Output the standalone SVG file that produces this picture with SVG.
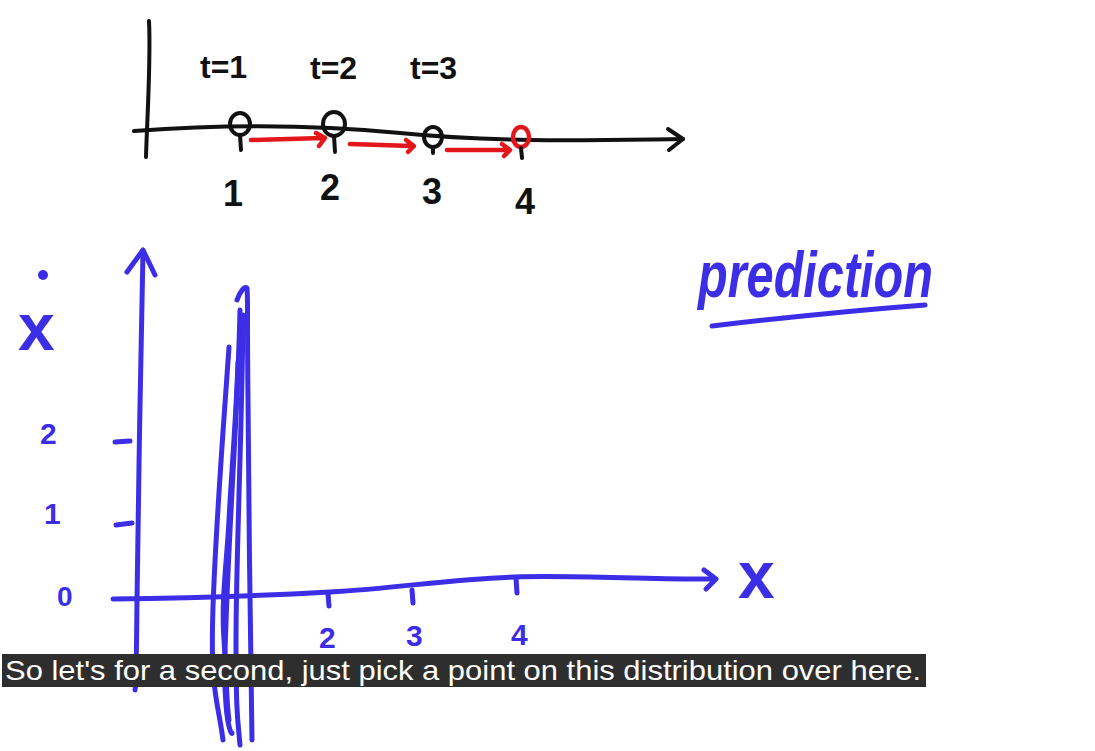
<svg xmlns="http://www.w3.org/2000/svg" width="1095" height="751" viewBox="0 0 1095 751">
<style>
.k{fill:none;stroke:#111;stroke-width:4;stroke-linecap:round;stroke-linejoin:round}
.r{fill:none;stroke:#e3161b;stroke-width:4.5;stroke-linecap:round;stroke-linejoin:round}
.b{fill:none;stroke:#3b2ee6;stroke-width:5;stroke-linecap:round;stroke-linejoin:round}
.tk{font-family:"Liberation Sans",sans-serif;fill:#111;font-weight:bold}
.tb{font-family:"Liberation Sans",sans-serif;fill:#3b2ee6;font-weight:bold}
.cap{font-family:"Liberation Sans",sans-serif;fill:#fff;font-size:28px}
</style>
<rect width="1095" height="751" fill="#fff"/>
<g id="top-axis">
<path class="k" d="M149,21 C151,60 147,120 146,157"/>
<path class="k" d="M134,131 C200,126 300,123 400,133 S600,140 683,139"/>
<path class="k" d="M668,129 L683,139 L669,150"/>
<ellipse class="k" cx="240" cy="124" rx="10" ry="11"/>
<ellipse class="k" cx="334" cy="124" rx="11" ry="12"/>
<ellipse class="k" cx="433" cy="137" rx="9" ry="10"/>
<ellipse class="r" cx="521" cy="137" rx="8" ry="10"/>
<path class="k" d="M240,135 L241,150 M334,136 L335,152 M433,147 L433,153 M521,148 L522,158"/>
<path class="r" d="M251,140 L323,138 M316,133 L325,138 L319,146"/>
<path class="r" d="M350,144 L412,146 M406,140 L414,146 L408,152"/>
<path class="r" d="M447,150 L508,150 M502,144 L510,150 L504,156"/>
<text class="tk" x="200" y="78" font-size="32">t=1</text>
<text class="tk" x="310" y="79" font-size="32">t=2</text>
<text class="tk" x="410" y="79" font-size="32">t=3</text>
<text class="tk" x="223" y="206" font-size="36">1</text>
<text class="tk" x="320" y="200" font-size="36">2</text>
<text class="tk" x="422" y="204" font-size="36">3</text>
<text class="tk" x="515" y="214" font-size="36">4</text>
</g>
<g id="phase-plot">
<path class="b" d="M143,251 C141,350 138,500 137,600 S136,680 135,690"/>
<path class="b" d="M127,272 L143,250 L155,275"/>
<path class="b" d="M113,599 C200,598 260,596 330,592 S450,579 515,577 S650,580 714,579"/>
<path class="b" d="M704,570 L716,579 L706,589"/>
<path class="b" d="M115,442 L130,441 M116,525 L132,523"/>
<path class="b" d="M328,594 L329,606 M412,590 L413,603 M516,578 L517,593"/>
<text class="tb" x="40" y="444" font-size="30">2</text>
<text class="tb" x="44" y="524" font-size="30">1</text>
<text class="tb" x="57" y="606" font-size="28">0</text>
<text class="tb" x="319" y="648" font-size="30">2</text>
<text class="tb" x="406" y="646" font-size="30">3</text>
<text class="tb" x="511" y="645" font-size="30">4</text>
<text class="tb" x="18" y="350" font-size="66">x</text>
<circle cx="43" cy="275" r="5" fill="#3b2ee6"/>
<text class="tb" x="738" y="598" font-size="66">x</text>
</g>
<g id="distribution">
<path class="b" d="M229,347 C224,420 216,520 213,607 S218,700 223,740"/>
<path class="b" d="M252,740 C250,650 249,500 248,400 S248,300 247,288 C244,286 240,292 237,300"/>
<path class="b" d="M240,310 C238,400 232,480 228,573 S224,680 226,705 S232,735 232,733"/>
<path class="b" d="M238,362 C236,420 231,480 229,520 S221,600 224,640 S226,700 229,720"/>
<path class="b" d="M243,315 C242,430 236,560 236,640 S238,720 240,745"/>
</g>
<g id="label-prediction">
<text class="tb" x="698" y="297" font-size="64" font-style="italic" font-weight="normal" textLength="235" lengthAdjust="spacingAndGlyphs">prediction</text>
<path class="b" d="M712,326 C780,318 860,310 925,305"/>
</g>
<g id="caption">
<rect x="2" y="654" width="924" height="33" fill="#2e2e2e"/>
<text class="cap" x="5" y="680" textLength="916" lengthAdjust="spacingAndGlyphs">So let's for a second, just pick a point on this distribution over here.</text>
</g>
</svg>
